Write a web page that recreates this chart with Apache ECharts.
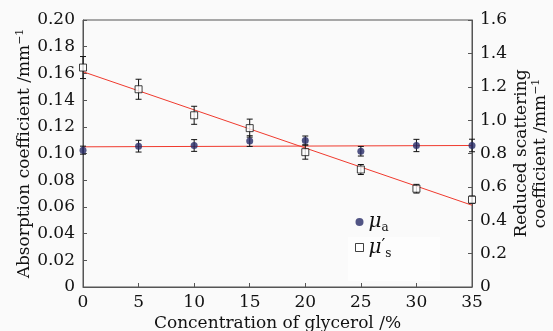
<!DOCTYPE html>
<html><head><meta charset="utf-8">
<script src="https://cdn.jsdelivr.net/npm/echarts@6/dist/echarts.min.js"></script>
<style>html,body{margin:0;padding:0;background:#fafafa}#c{width:553px;height:331px}</style>
</head><body><div id="c"></div>
<script>
// Data
const concentration = [0, 5, 10, 15, 20, 25, 30, 35];
const muA = [0.1025, 0.1055, 0.106, 0.1093, 0.1098, 0.1017, 0.106, 0.106];
const muAErr = [0.003, 0.0044, 0.0044, 0.004, 0.0033, 0.0036, 0.0046, 0.0047];
const muS = [1.315, 1.185, 1.029, 0.952, 0.808, 0.704, 0.589, 0.523];
const muSErr = [0.066, 0.06, 0.054, 0.054, 0.042, 0.03, 0.026, 0.022];
const muAFitX = [0, 35];
const muAFitY = [0.105, 0.106];
const muSFitX = [0, 35];
const muSFitY = [1.29, 0.49];
const xTicks = [0, 5, 10, 15, 20, 25, 30, 35];

const FONT = 'DejaVu Serif';
const chart = echarts.init(document.getElementById('c'));
const pair = (xs, ys) => xs.map((x, i) => [x, ys[i]]);
const triple = (xs, ys, es) => xs.map((x, i) => [x, ys[i], es[i]]);

function errRender(params, api) {
  const x = api.value(0), y = api.value(1), e = api.value(2);
  const t = api.coord([x, y + e]), b = api.coord([x, y - e]);
  const w = 3;
  const st = {stroke: '#111', lineWidth: 1};
  return {type: 'group', children: [
    {type: 'line', shape: {x1: t[0], y1: t[1], x2: b[0], y2: b[1]}, style: st},
    {type: 'line', shape: {x1: t[0] - w, y1: t[1], x2: t[0] + w, y2: t[1]}, style: st},
    {type: 'line', shape: {x1: b[0] - w, y1: b[1], x2: b[0] + w, y2: b[1]}, style: st}
  ]};
}

const axisCommon = {
  axisLine: {show: true, lineStyle: {color: '#555', width: 1}},
  axisTick: {show: true, inside: true, length: 4, lineStyle: {color: '#555'}},
  splitLine: {show: false},
  nameMoveOverlap: false,
  axisLabel: {fontFamily: FONT, fontSize: 17, color: '#111'}
};

chart.setOption({
  backgroundColor: '#fafafa',
  animation: false,
  grid: {left: 83, right: 81, top: 20, bottom: 44, show: true, borderColor: '#555', borderWidth: 1,
         backgroundColor: 'transparent', containLabel: false, outerBoundsMode: 'none'},
  graphic: [
    {type: 'rect', z: -10, silent: true, shape: {x: 348, y: 237, width: 92, height: 44}, style: {fill: '#fdfdfd'}}
  ],
  legend: {
    orient: 'vertical', left: 350, top: 207, itemGap: 3, itemWidth: 8, itemHeight: 8,
    data: [
      {name: 'muA', icon: 'circle'},
      {name: 'muS', icon: 'rect', itemStyle: {color: '#fff', borderColor: '#111', borderWidth: 1}}
    ],
    formatter: n => n === 'muA' ? '{m|μ}{s|a}' : '{m|μ}{p|′}{s|s}',
    textStyle: {
      fontFamily: FONT, color: '#111',
      rich: {
        m: {fontFamily: FONT, fontStyle: 'italic', fontSize: 20, color: '#111'},
        s: {fontFamily: FONT, fontSize: 12, color: '#111', padding: [12, 0, 0, 0]},
        p: {fontFamily: FONT, fontSize: 17, color: '#111', padding: [0, 0, 4, 0]}
      }
    }
  },
  xAxis: Object.assign({}, axisCommon, {
    type: 'value', min: 0, max: 35, interval: 5,
    name: 'Concentration of glycerol /%', nameLocation: 'middle', nameGap: 28,
    nameTextStyle: {fontFamily: FONT, fontSize: 17, color: '#111'},
    axisLabel: Object.assign({}, axisCommon.axisLabel, {margin: 7, formatter: v => xTicks.includes(v) ? String(v) : ''})
  }),
  yAxis: [
    Object.assign({}, axisCommon, {
      type: 'value', min: 0, max: 0.2, interval: 0.02, position: 'left',
      name: '{t|Absorption coefficient /mm}{u|−1}', nameLocation: 'middle', nameGap: 48, nameRotate: 90,
      nameTextStyle: {fontFamily: FONT, fontSize: 17, color: '#111',
        rich: {t: {fontFamily: FONT, fontSize: 17, color: '#111'}, u: {fontFamily: FONT, fontSize: 11, color: '#111', padding: [0, 0, 9, 0]}}},
      axisLabel: Object.assign({}, axisCommon.axisLabel, {margin: 8, formatter: v => v === 0 ? '0' : v.toFixed(2)})
    }),
    Object.assign({}, axisCommon, {
      type: 'value', min: 0, max: 1.6, interval: 0.2, position: 'right',
      name: '{t|Reduced scattering}\n{t|coefficient /mm}{u|−1}', nameLocation: 'middle', nameGap: 40, nameRotate: 90,
      nameTextStyle: {fontFamily: FONT, fontSize: 17, color: '#111', lineHeight: 19,
        rich: {t: {fontFamily: FONT, fontSize: 17, color: '#111', lineHeight: 19}, u: {fontFamily: FONT, fontSize: 11, color: '#111', padding: [0, 0, 9, 0]}}},
      axisLabel: Object.assign({}, axisCommon.axisLabel, {margin: 8, formatter: v => v === 0 ? '0' : v.toFixed(1)})
    })
  ],
  series: [
    {type: 'line', yAxisIndex: 0, data: pair(muAFitX, muAFitY), symbol: 'none', lineStyle: {color: '#f03a2e', width: 1}, silent: true, z: 1},
    {type: 'line', yAxisIndex: 1, data: pair(muSFitX, muSFitY), symbol: 'none', lineStyle: {color: '#f03a2e', width: 1}, silent: true, z: 1},
    {type: 'custom', yAxisIndex: 0, data: triple(concentration, muA, muAErr), renderItem: errRender, encode: {x: 0, y: 1}, z: 2},
    {type: 'custom', yAxisIndex: 1, data: triple(concentration, muS, muSErr), renderItem: errRender, encode: {x: 0, y: 1}, z: 2},
    {name: 'muA', type: 'scatter', yAxisIndex: 0, data: pair(concentration, muA), symbol: 'circle', symbolSize: 7,
     itemStyle: {color: '#272a66'}, z: 3},
    {name: 'muS', type: 'scatter', yAxisIndex: 1, data: pair(concentration, muS), symbol: 'rect', symbolSize: 7,
     itemStyle: {color: '#fff', borderColor: '#111', borderWidth: 1}, z: 3}
  ]
});
</script></body></html>
